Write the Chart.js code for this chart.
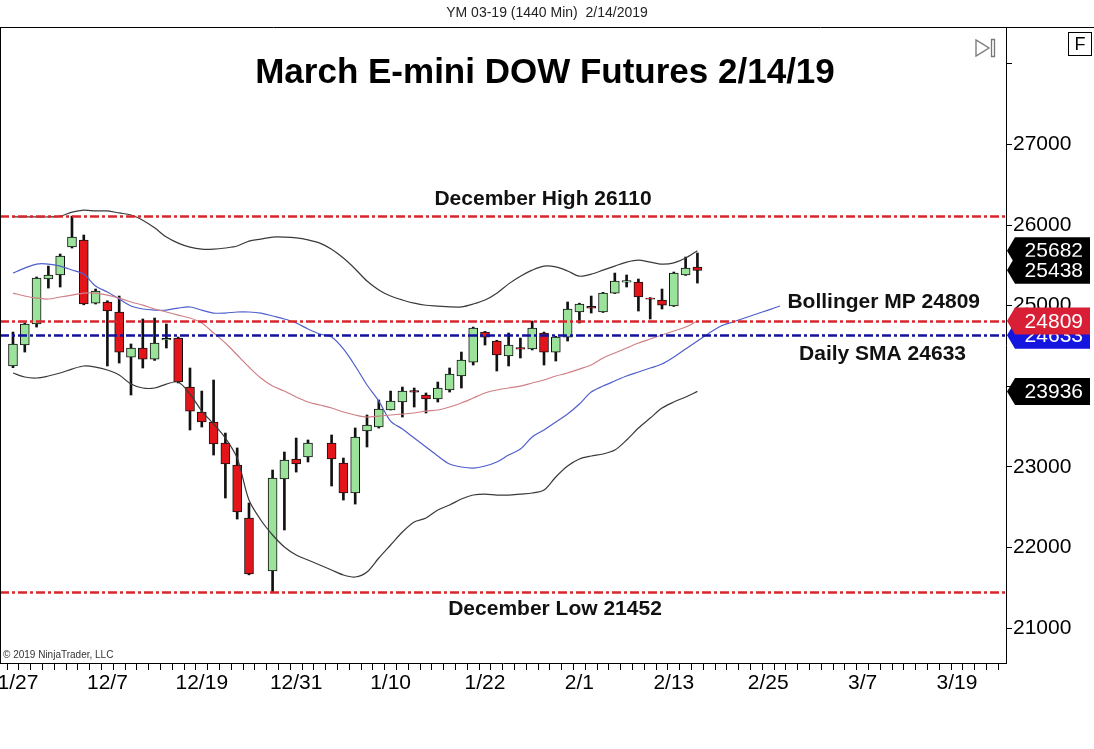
<!DOCTYPE html>
<html>
<head>
<meta charset="utf-8">
<script src="https://cdn.jsdelivr.net/npm/chart.js@4.4.1/dist/chart.umd.min.js"></script>
<style>
  html, body { margin: 0; padding: 0; background: #fff; }
  canvas { display: block; }
</style>
</head>
<body>
<canvas id="chart" width="1094" height="749"></canvas>
<script>
// YM 03-19 daily candles, one slot per weekday starting 11/27/2018 (null = no bar)

const HEADER = 'YM 03-19 (1440 Min)  2/14/2019';
const TITLE = 'March E-mini DOW Futures 2/14/19';

const TICK_LABELS = ['11/27', '12/7', '12/19', '12/31', '1/10', '1/22', '2/1', '2/13', '2/25', '3/7', '3/19'];
const TICK_EVERY = 8;      // weekday slots between date labels
const SLOT_COUNT = 85;     // slots on the axis, incl. empty future
const Y_TICKS = [21000, 22000, 23000, 24000, 25000, 26000, 27000, 28000];

const OPEN = [24251, 24511, 24772, 25330, 25380, 25727, 25814, 25032, 25045, 24921,
  24362, 24474, 24337, 24573, 24598, 23990, 23680, 23556, 23295, 23022,
  22365, null, 21707, 22849, 23097, 23122, null, 23295, 23047, 22675,
  23444, 23494, 23705, 23804, 23945, 23891, 23841, 23953, 24127, 24300,
  24672, 24561, 24375, 24480, 24462, 24660, 24424, 24610, 24921, 24990,
  24921, 25156, 25290, 25293, 25094, 25069, 24995, 25380, 25479];
const HIGH = [24672, 24784, 25355, 25491, 25640, 26110, 25876, 25206, 25060, 25119,
  24524, 24834, 24846, 24772, 24610, 24226, 23940, 24077, 23419, 23234,
  22551, null, 22960, 23184, 23357, 23333, null, 23395, 23109, 23482,
  23643, 23829, 23940, 23990, 23978, 23916, 24052, 24226, 24424, 24734,
  24680, 24570, 24660, 24598, 24809, 24672, 24620, 25045, 25030, 25119,
  25165, 25404, 25380, 25330, 25100, 25206, 25417, 25603, 25653];
const LOW = [24230, 24424, 24734, 25218, 25231, 25715, 25010, 25020, 24251, 24288,
  23891, 24226, 24320, 24474, 24040, 23457, 23494, 23146, 22613, 22352,
  21660, null, 21452, 22216, 22935, 23060, null, 22762, 22588, 22538,
  23246, 23481, 23705, 23618, 23742, 23668, 23804, 23928, 23978, 24263,
  24511, 24189, 24251, 24350, 24450, 24263, 24313, 24561, 24784, 24908,
  24915, 25150, 25231, 24933, 24834, 24958, 24990, 25375, 25280];
const CLOSE = [24524, 24772, 25342, 25380, 25615, 25851, 25020, 25181, 24933, 24424,
  24474, 24337, 24536, 24593, 24052, 23692, 23556, 23283, 23035, 22439,
  21670, null, 22861, 23084, 23035, 23295, null, 23097, 22675, 23370,
  23519, 23717, 23816, 23940, 23925, 23841, 23978, 24151, 24325, 24722,
  24610, 24387, 24511, 24460, 24722, 24424, 24610, 24958, 25020, 24970,
  25156, 25305, 25310, 25107, 25080, 25007, 25404, 25466, 25438];

// Bollinger bands
const BB_UPPER = [26100, 26100, 26100, 26100, 26110, 26160, 26185, 26175, 26175, 26150,
  26125, 26060, 25965, 25850, 25775, 25725, 25700, 25700, 25715, 25740,
  25800, 25825, 25850, 25850, 25840, 25815, 25775, 25700, 25590, 25455,
  25305, 25195, 25120, 25070, 25030, 25005, 24995, 24985, 24985, 25020,
  25070, 25155, 25270, 25365, 25440, 25490, 25480, 25430, 25365, 25390,
  25440, 25490, 25540, 25565, 25540, 25515, 25530, 25590, 25682];
const BB_MIDDLE = [25156, 25119, 25094, 25082, 25107, 25131, 25156, 25156, 25131, 25094,
  25045, 25007, 24958, 24921, 24883, 24846, 24784, 24660, 24536, 24387,
  24238, 24102, 24002, 23940, 23866, 23804, 23767, 23730, 23680, 23643,
  23618, 23630, 23643, 23655, 23668, 23692, 23705, 23742, 23792, 23854,
  23916, 23953, 23978, 24002, 24040, 24077, 24127, 24164, 24213, 24263,
  24350, 24412, 24474, 24536, 24586, 24635, 24685, 24734, 24809];
const BB_LOWER = [24164, 24114, 24102, 24127, 24164, 24213, 24251, 24238, 24201, 24139,
  24027, 23978, 23978, 24027, 24052, 23903, 23692, 23531, 23357, 23109,
  22588, 22340, 22154, 22005, 21906, 21844, 21782, 21720, 21658, 21633,
  21695, 21869, 22030, 22191, 22315, 22365, 22464, 22526, 22600, 22650,
  22662, 22650, 22650, 22662, 22675, 22712, 22874, 23010, 23097, 23134,
  23159, 23208, 23333, 23481, 23605, 23729, 23804, 23866, 23936];

// displaced daily SMA (runs past the last bar)
const SMA = [25404, 25466, 25516, 25516, 25491, 25442, 25392, 25243, 25169, 25082,
  24995, 24958, 24945, 24945, 24970, 24983, 24945, 24908, 24908, 24921,
  24921, 24908, 24871, 24834, 24784, 24710, 24648, 24610, 24462, 24251,
  24015, 23816, 23568, 23469, 23357, 23246, 23134, 23035, 22998, 22985,
  23010, 23060, 23146, 23221, 23370, 23457, 23556, 23655, 23779, 23928,
  24002, 24065, 24127, 24176, 24226, 24275, 24362, 24462, 24561, 24660,
  24747, 24797, 24846, 24896, 24945, 24995];

// horizontal levels
const LEVEL_NAMES = ['December High', 'Bollinger MP', 'Daily SMA', 'December Low'];
const LEVEL_VALUES = [26110, 24809, 24633, 21452];

// right-axis price markers
const MARKER_VALUES = [25682, 25438, 23936, 24633, 24809];
const MARKER_KINDS = ['band', 'last', 'band', 'sma', 'mp'];

const COLORS = {
  up: '#9be39b',
  down: '#e3151b',
  outline: '#111',
  band: '#3a3a3a',
  middle: '#cf8086',
  sma: '#4f5fcc',
  red: '#d9262c',
  blue: '#12129e',
  text: '#000',
};
const FONT = '"Liberation Sans", Arial, sans-serif';

const LEVEL_COLORS = [COLORS.red, COLORS.red, COLORS.blue, COLORS.red];
const MARKER_COLORS = { band: '#000', last: '#000', sma: '#1515e0', mp: '#d91f35' };

const slots = OPEN.map((_, i) => i).filter((i) => OPEN[i] != null);
const line = (arr) => arr.map((v, i) => ({ x: i, y: v }));

const overlay = {
  id: 'overlay',
  afterDatasetsDraw(chart) {
    const { ctx, chartArea: a, scales: { y } } = chart;
    ctx.save();
    ctx.beginPath();
    ctx.rect(a.left, a.top, a.right - a.left, a.bottom - a.top);
    ctx.clip();
    ctx.lineWidth = 2.5;
    ctx.setLineDash([9, 3, 3, 3]);
    LEVEL_VALUES.forEach((v, i) => {
      const py = Math.round(y.getPixelForValue(v)) + 0.5;
      ctx.strokeStyle = LEVEL_COLORS[i];
      ctx.beginPath();
      ctx.moveTo(a.left, py);
      ctx.lineTo(a.right, py);
      ctx.stroke();
    });
    ctx.restore();
  },
  afterDraw(chart) {
    const { ctx, chartArea: a, scales: { y } } = chart;
    const W = chart.width;
    ctx.save();

    // frame
    ctx.strokeStyle = '#000';
    ctx.lineWidth = 1;
    ctx.beginPath();
    ctx.moveTo(0, a.top + 0.5); ctx.lineTo(W, a.top + 0.5);
    ctx.moveTo(0.5, a.top); ctx.lineTo(0.5, a.bottom);
    ctx.stroke();

    // header + title
    ctx.textAlign = 'center';
    ctx.textBaseline = 'middle';
    ctx.fillStyle = '#222';
    ctx.font = `14px ${FONT}`;
    ctx.fillText(HEADER, W / 2, 13);
    ctx.fillStyle = '#000';
    ctx.font = `bold 35px ${FONT}`;
    ctx.fillText(TITLE, W / 2 - 2, a.top + 46);

    // level captions
    ctx.font = `bold 21px ${FONT}`;
    ctx.fillStyle = '#111';
    const cap = (i, px, align, dy) => {
      ctx.textAlign = align;
      ctx.fillText(`${LEVEL_NAMES[i]} ${LEVEL_VALUES[i]}`, px, y.getPixelForValue(LEVEL_VALUES[i]) + dy);
    };
    cap(0, a.left + 543, 'center', -17);
    cap(1, a.left + 980, 'right', -19);
    cap(2, a.left + 966, 'right', 19);
    cap(3, a.left + 555, 'center', 18);

    // copyright
    ctx.textAlign = 'left';
    ctx.fillStyle = '#333';
    ctx.font = `10px ${FONT}`;
    ctx.fillText('\u00a9 2019 NinjaTrader, LLC', a.left + 3, a.bottom - 8);

    // price markers on the right axis
    ctx.font = `21px ${FONT}`;
    MARKER_VALUES.forEach((v, i) => {
      const kind = MARKER_KINDS[i];
      const yc = y.getPixelForValue(v);
      const h = 27;
      const xl = a.right + 1, tip = 8, xr = W - 4;
      ctx.beginPath();
      ctx.moveTo(xl, yc);
      ctx.lineTo(xl + tip, yc - h / 2);
      ctx.lineTo(xr, yc - h / 2);
      ctx.lineTo(xr, yc + h / 2);
      ctx.lineTo(xl + tip, yc + h / 2);
      ctx.closePath();
      ctx.fillStyle = MARKER_COLORS[kind];
      ctx.fill();
      ctx.fillStyle = '#fff';
      ctx.textAlign = 'right';
      ctx.fillText(String(v), xr - 7, yc + 1);
    });

    // toolbar glyphs
    ctx.strokeStyle = '#777';
    ctx.lineWidth = 1.3;
    ctx.beginPath();
    ctx.moveTo(a.right - 30, a.top + 13);
    ctx.lineTo(a.right - 30, a.top + 29);
    ctx.lineTo(a.right - 17, a.top + 21);
    ctx.closePath();
    ctx.rect(a.right - 14.5, a.top + 12.5, 3, 17);
    ctx.stroke();
    ctx.strokeStyle = '#000';
    ctx.lineWidth = 1;
    ctx.strokeRect(W - 25.5, a.top + 5.5, 23, 23);
    ctx.fillStyle = '#000';
    ctx.textAlign = 'center';
    ctx.font = `18px ${FONT}`;
    ctx.fillText('F', W - 14, a.top + 18);

    ctx.restore();
  },
};

new Chart(document.getElementById('chart'), {
  type: 'bar',
  data: {
    datasets: [
      {
        type: 'line', data: line(BB_UPPER), borderColor: COLORS.band, borderWidth: 1.2,
        pointRadius: 0, tension: 0.3, order: 0,
      },
      {
        type: 'line', data: line(BB_LOWER), borderColor: COLORS.band, borderWidth: 1.2,
        pointRadius: 0, tension: 0.3, order: 0,
      },
      {
        type: 'line', data: line(BB_MIDDLE), borderColor: COLORS.middle, borderWidth: 1.2,
        pointRadius: 0, tension: 0.3, order: 0,
      },
      {
        type: 'line', data: line(SMA), borderColor: COLORS.sma, borderWidth: 1.2,
        pointRadius: 0, tension: 0.3, order: 0,
      },
      {
        // candle bodies
        data: slots.map((i) => ({ x: i, y: [OPEN[i], CLOSE[i]] })),
        backgroundColor: slots.map((i) => (CLOSE[i] >= OPEN[i] ? COLORS.up : COLORS.down)),
        borderColor: COLORS.outline,
        borderWidth: 1,
        borderSkipped: false,
        barThickness: 9,
        grouped: false,
        order: 1,
      },
      {
        // wicks
        data: slots.map((i) => ({ x: i, y: [LOW[i], HIGH[i]] })),
        backgroundColor: COLORS.outline,
        barThickness: 2,
        grouped: false,
        order: 2,
      },
    ],
  },
  options: {
    responsive: false,
    animation: false,
    events: [],
    layout: { padding: { top: 27, left: 0, right: 0, bottom: 0 } },
    plugins: { legend: { display: false }, tooltip: { enabled: false } },
    scales: {
      x: {
        type: 'linear',
        min: -1.1,
        max: 84.15,
        offset: false,
        afterBuildTicks: (axis) => {
          axis.ticks = Array.from({ length: SLOT_COUNT }, (_, i) => ({ value: i }));
        },
        afterFit: (axis) => { axis.height = 86; axis.paddingLeft = 0; axis.paddingRight = 0; },
        grid: { display: true, drawOnChartArea: false, drawTicks: true, tickLength: 7, tickColor: '#000' },
        border: { display: true, color: '#000', width: 1 },
        ticks: {
          autoSkip: false, maxRotation: 0, padding: 1, color: COLORS.text,
          font: { family: FONT, size: 21 },
          callback: (v) => (v % TICK_EVERY === 0 ? TICK_LABELS[v / TICK_EVERY] || '' : ''),
        },
      },
      y: {
        position: 'right',
        min: 20566,
        max: 28457,
        afterBuildTicks: (axis) => { axis.ticks = Y_TICKS.map((v) => ({ value: v })); },
        afterFit: (axis) => { axis.width = 88; },
        grid: { display: true, drawOnChartArea: false, drawTicks: true, tickLength: 6, tickColor: '#000' },
        border: { display: true, color: '#000', width: 1 },
        ticks: {
          autoSkip: false, padding: 1, color: COLORS.text,
          font: { family: FONT, size: 21 },
          callback: (v) => (v > 27000 ? '' : String(v)),
        },
      },
    },
  },
  plugins: [overlay],
});
</script>
</body>
</html>
